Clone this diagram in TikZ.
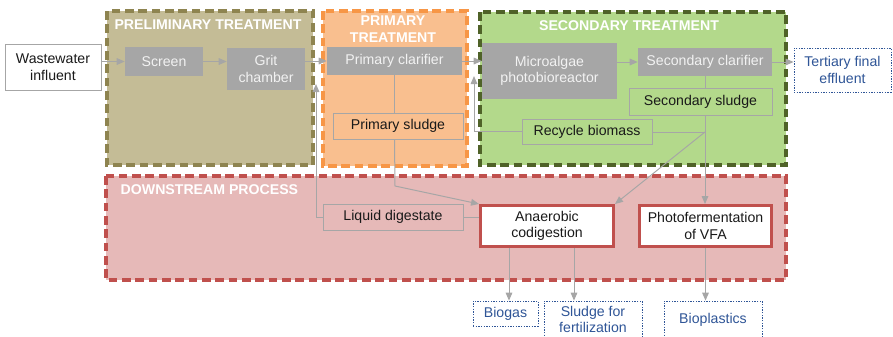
\documentclass[tikz,border=0pt]{standalone}
\usepackage{fontspec}
\setmainfont{Liberation Sans}
\usetikzlibrary{arrows.meta}

\definecolor{pretan}{HTML}{C4BC96}
\definecolor{preline}{HTML}{8E8450}
\definecolor{priorange}{HTML}{F9BF8F}
\definecolor{priline}{HTML}{F79646}
\definecolor{secgreen}{HTML}{B3D98B}
\definecolor{secline}{HTML}{4F6228}
\definecolor{downpink}{HTML}{E6B9B8}
\definecolor{downline}{HTML}{C0504D}
\definecolor{unitgray}{HTML}{A6A6A6}
\definecolor{unittext}{HTML}{F2F2F2}
\definecolor{linegray}{HTML}{A6A6A6}
\definecolor{prodblue}{HTML}{2F5597}

\begin{document}
\begin{tikzpicture}[x=0.75pt,y=-0.75pt,font=\fontsize{10.6}{12.5}\selectfont]

\tikzset{zone/.style = {line width=2.4pt, dash pattern=on 6.5pt off 3.5pt}}
\tikzset{zonetitle/.style = {text=white, align=center, font=\fontsize{10.6}{12.5}\selectfont\bfseries}}
\tikzset{unit/.style = {fill=unitgray, text=unittext, align=center, inner sep=0pt}}
\tikzset{stream/.style = {draw=linegray, line width=0.6pt, align=center, inner sep=0pt, text=black!90}}
\tikzset{reactor/.style = {draw=downline, line width=2pt, fill=white, align=center, inner sep=0pt, text=black!90}}
\tikzset{product/.style = {draw=prodblue, dash pattern=on 1pt off 1pt, line width=0.6pt, fill=white, text=prodblue, align=center, inner sep=0pt}}
\tikzset{flow/.style = {draw=linegray, line width=0.75pt, -{Triangle[length=6pt,width=5pt]}}}
\tikzset{joint/.style = {draw=linegray, line width=0.75pt}}

\useasboundingbox (0,0) rectangle (893,336);

%zones
\draw[zone, fill=pretan, draw=preline] (107,11) rectangle (313,165);
\draw[zone, fill=priorange, draw=priline] (323,11) rectangle (467,166);
\draw[zone, fill=secgreen, draw=secline] (480,12) rectangle (786,165);
\draw[zone, fill=downpink, draw=downline] (106,176) rectangle (786,280);
\node[zonetitle] (pret) at (208,25) {PRELIMINARY TREATMENT};
\node[zonetitle] (prit) at (393,29) {PRIMARY\\TREATMENT};
\node[zonetitle] (sect) at (629,26) {SECONDARY TREATMENT};
\node[zonetitle, anchor=west] (downt) at (116,190) {DOWNSTREAM PROCESS};

%units
\node[stream, fill=white, minimum width=72pt, minimum height=34.5pt] (ww) at (53,67) {Wastewater\\influent};
\node[unit, minimum width=58.5pt, minimum height=21.75pt] (scr) at (164,61.5) {Screen};
\node[unit, minimum width=58.5pt, minimum height=31.5pt] (grit) at (266,69) {Grit\\chamber};
\node[unit, minimum width=101.25pt, minimum height=21pt] (pc) at (394.5,61) {Primary clarifier};
\node[stream, minimum width=97.5pt, minimum height=19.5pt] (ps) at (398,126) {Primary sludge};
\node[unit, minimum width=101.25pt, minimum height=42pt] (pbr) at (549.5,71) {Microalgae\\photobioreactor};
\node[unit, minimum width=100.5pt, minimum height=21pt] (sc) at (705,62) {Secondary clarifier};
\node[stream, minimum width=107.25pt, minimum height=20.25pt] (ss) at (700.5,101.5) {Secondary sludge};
\node[stream, minimum width=97.5pt, minimum height=18.75pt] (rb) at (587,131.5) {Recycle biomass};
\node[product, minimum width=72.75pt, minimum height=33pt] (tfe) at (842.5,70) {Tertiary final\\effluent};
\node[stream, minimum width=105pt, minimum height=19.5pt] (ld) at (393,217) {Liquid digestate};
\node[reactor, minimum width=100pt, minimum height=31pt] (ad) at (547,226) {Anaerobic\\codigestion};
\node[reactor, minimum width=99.25pt, minimum height=31pt] (pf) at (705.5,226) {Photofermentation\\of VFA};
\node[product, minimum width=48.75pt, minimum height=18.75pt] (bg) at (505.5,313.5) {Biogas};
\node[product, minimum width=73.5pt, minimum height=27.75pt] (sf) at (593,319.5) {Sludge for\\fertilization};
\node[product, minimum width=73.5pt, minimum height=27.75pt] (bp) at (713,319.5) {Bioplastics};

\coordinate (j) at (705,132);
\coordinate (pskink) at (395,186);
\coordinate (rbup) at (474,76);
\coordinate (ldup) at (316,84);

%connectors
\draw[flow] (ww.east |- scr.west) -- (scr.west);
\draw[flow] (scr.east) -- (scr.east -| grit.west);
\draw[flow] (grit.east |- pc.west) -- (pc.west);
\draw[flow] (pc.east) -- (pc.east -| pbr.west);
\draw[flow] (pbr.east |- sc.west) -- (sc.west);
\draw[flow] (sc.east) -- (sc.east -| tfe.west);
\draw[joint] (pc.south) -- (pc.south |- ps.north);
\draw[flow] (pc.south |- ps.south) -- (pskink) -- (ad.north west);
\draw[joint] (sc.south) -- (sc.south |- ss.north);
\draw[joint] (sc.south |- ss.south) -- (j);
\draw[flow] (j) -- (j |- pf.north);
\draw[joint] (j) -- (j -| rb.east);
\draw[flow] (j) -- (ad.north east);
\draw[flow] (rb.west) -| (rbup);
\draw[joint] (ad.west |- ld.east) -- (ld.east);
\draw[flow] (ld.west) -| (ldup);
\draw[flow] ([xshift=-28.5pt]ad.south) -- ([xshift=-28.5pt]ad.south |- bg.north);
\draw[flow] ([xshift=20.25pt]ad.south) -- ([xshift=20.25pt]ad.south |- sf.north);
\draw[flow] (pf.south) -- (pf.south |- bp.north);

\end{tikzpicture}
\end{document}
